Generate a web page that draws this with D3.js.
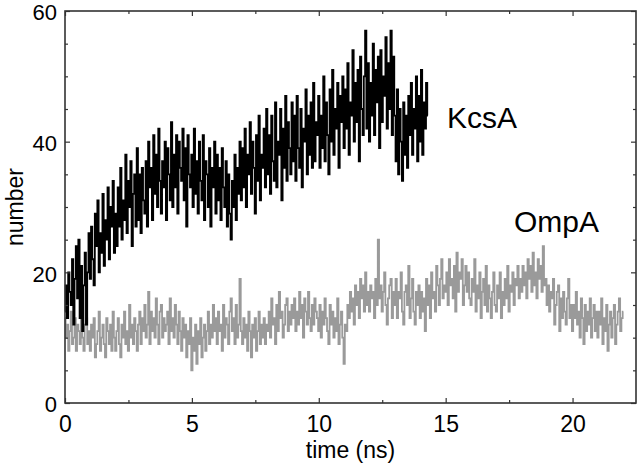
<!DOCTYPE html>
<html><head><meta charset="utf-8">
<script src="https://cdn.jsdelivr.net/npm/d3@7"></script>
<style>
html,body{margin:0;padding:0;background:#fff;}
svg{display:block;font-family:"Liberation Sans",Arial,sans-serif;}
</style></head>
<body>
<svg id="c" width="640" height="468"></svg>
<script>
// time step between samples (ns)
const timeStep = 0.05;
// KcsA counts, t = 0 .. 14.3 ns
const kcsaValues = [
14,18,13,20,17,15,22,12,19,24,16,25,13,21,11,18,23,12,20,26,
19,27,22,18,29,24,31,20,26,23,32,21,28,25,33,22,30,27,34,23,
29,24,33,27,36,25,31,28,38,26,34,30,37,24,32,35,27,39,28,35,
26,36,31,29,37,27,40,33,36,28,41,32,38,30,42,34,29,37,33,40,
28,39,35,31,43,30,38,33,41,29,40,36,34,42,31,39,27,41,35,33,
38,30,42,32,37,29,40,34,31,41,28,37,35,30,39,27,36,33,40,29,
38,31,36,28,39,33,30,37,27,35,29,25,34,30,38,28,36,32,40,31,
39,33,42,30,38,35,43,32,40,36,29,41,34,44,31,38,36,42,33,45,
35,41,32,44,37,34,46,33,40,38,45,31,42,36,47,34,43,39,35,46,
37,44,34,47,39,36,45,33,42,40,48,35,44,38,46,36,49,37,43,41,
47,36,44,39,50,37,46,41,35,48,40,51,38,45,42,49,36,47,43,50,
39,48,42,52,38,46,44,54,40,49,43,51,37,53,45,41,50,57,42,52,
40,49,44,55,41,51,46,53,39,54,43,50,47,56,42,52,45,57,41,53,
44,37,48,35,45,40,34,46,38,44,36,47,41,49,38,45,42,50,37,47,
40,51,38,46,42,49,44
];
// OmpA counts, t = 0 .. 22 ns
const ompaValues = [
13,10,12,8,11,14,9,10,13,8,12,11,9,14,10,8,12,13,9,11,
8,12,10,13,7,9,11,14,8,10,12,9,7,13,11,9,12,8,14,10,
8,11,13,9,7,12,10,14,9,11,8,15,10,12,9,13,11,8,12,14,
9,13,11,15,10,12,17,9,14,11,13,10,16,12,9,14,15,10,13,11,
12,14,9,16,11,13,10,15,12,9,14,11,8,13,10,12,7,11,9,13,
5,10,8,12,6,11,9,13,7,10,12,8,11,14,9,12,10,15,11,13,
9,14,11,12,8,15,10,13,12,9,14,16,11,13,9,15,10,12,19,11,
9,13,10,12,8,14,11,7,12,10,13,8,11,14,9,12,10,13,9,12,
11,14,10,16,12,13,9,15,11,17,13,14,10,12,15,16,11,14,12,15,
13,16,11,14,12,17,13,15,10,16,14,12,17,13,11,15,12,16,14,13,
11,15,10,14,12,16,13,11,9,15,12,14,10,13,11,16,9,12,14,10,
6,12,11,15,13,17,14,16,12,18,15,17,13,19,16,18,14,20,15,17,
14,18,16,17,13,19,15,25,16,18,14,17,20,15,12,16,18,19,13,17,
15,19,13,17,16,20,14,12,17,18,15,21,13,16,19,14,12,17,15,18,
13,17,14,16,11,19,15,18,13,20,16,17,14,21,18,15,19,22,16,18,
17,20,15,22,18,19,16,21,14,23,17,20,19,22,15,18,21,17,20,16,
15,19,17,22,14,18,16,20,13,17,19,15,21,14,18,16,13,17,20,15,
14,18,16,20,13,17,15,19,16,21,14,18,17,20,15,19,18,21,16,19,
17,21,18,20,16,22,19,21,17,23,18,20,16,22,19,21,17,24,18,19,
15,18,14,17,16,19,12,15,17,18,11,16,13,17,14,12,16,19,13,15,
11,15,13,17,12,14,10,16,13,9,15,11,14,12,16,10,13,15,11,14,
10,14,12,16,9,13,11,15,8,12,14,10,13,15,9,12,14,16,11,13,
14
];
const xMajorTicks = [0,5,10,15,20];
const xMinorTicks = [2.5,7.5,12.5,17.5];
const yMajorTicks = [0,20,40,60];
const yMinorTicks = [5,10,15,25,30,35,45,50,55];
const xDomain = [0, 22.5];
const yDomain = [0, 60];
const seriesNames = ["KcsA","OmpA"];

const svg = d3.select("#c");
const W = 640, H = 468;
const m = {left:65, right:4, top:11, bottom:65};
const iw = W - m.left - m.right, ih = H - m.top - m.bottom;
const g = svg.append("g").attr("transform", `translate(${m.left},${m.top})`);
const x = d3.scaleLinear().domain(xDomain).range([0, iw]);
const y = d3.scaleLinear().domain(yDomain).range([ih, 0]);

const toPts = vals => vals.map((v,i)=>({t: +(i*timeStep).toFixed(3), v}));
const line = d3.line().x(d=>x(d.t)).y(d=>y(d.v)).curve(d3.curveStep);

g.append("path").datum(toPts(ompaValues)).attr("d", line)
  .attr("fill","none").attr("stroke","#9a9a9a").attr("stroke-width",1.8);
g.append("path").datum(toPts(kcsaValues)).attr("d", line)
  .attr("fill","none").attr("stroke","#000").attr("stroke-width",1.8);

const axColor = "#333";
const fontSize = "23px";
function styleAxis(sel){
  sel.select(".domain").remove();
  sel.selectAll("line").attr("stroke", axColor).attr("stroke-width",1.2);
  sel.selectAll("text").attr("fill","#000").style("font-size",fontSize)
     .style("font-family",'"Liberation Sans", Arial, sans-serif');
}
// bottom
g.append("g").attr("transform",`translate(0,${ih})`)
  .call(d3.axisBottom(x).tickValues(xMajorTicks).tickSizeInner(-5).tickSizeOuter(0).tickPadding(13).tickFormat(d3.format("d")))
  .call(styleAxis);
g.append("g").attr("transform",`translate(0,${ih})`)
  .call(d3.axisBottom(x).tickValues(xMinorTicks).tickSizeInner(-3).tickSizeOuter(0).tickFormat(""))
  .call(styleAxis);
// top
g.append("g")
  .call(d3.axisTop(x).tickValues(xMajorTicks).tickSizeInner(-5).tickSizeOuter(0).tickFormat(""))
  .call(styleAxis);
g.append("g")
  .call(d3.axisTop(x).tickValues(xMinorTicks).tickSizeInner(-3).tickSizeOuter(0).tickFormat(""))
  .call(styleAxis);
// left
g.append("g")
  .call(d3.axisLeft(y).tickValues(yMajorTicks).tickSizeInner(-5).tickSizeOuter(0).tickPadding(8).tickFormat(d3.format("d")))
  .call(styleAxis)
  .call(s => s.selectAll("text").style("font-size","22px").attr("dy","0.4em"));
g.append("g")
  .call(d3.axisLeft(y).tickValues(yMinorTicks).tickSizeInner(-3).tickSizeOuter(0).tickFormat(""))
  .call(styleAxis);
// right
g.append("g").attr("transform",`translate(${iw},0)`)
  .call(d3.axisRight(y).tickValues(yMajorTicks).tickSizeInner(-5).tickSizeOuter(0).tickFormat(""))
  .call(styleAxis);
g.append("g").attr("transform",`translate(${iw},0)`)
  .call(d3.axisRight(y).tickValues(yMinorTicks).tickSizeInner(-3).tickSizeOuter(0).tickFormat(""))
  .call(styleAxis);

// frame
g.append("rect").attr("x",0).attr("y",0).attr("width",iw).attr("height",ih)
  .attr("fill","none").attr("stroke",axColor).attr("stroke-width",1.6);

// axis titles
svg.append("text").attr("x", m.left + iw/2).attr("y", 458)
  .attr("text-anchor","middle").style("font-size",fontSize).text("time (ns)");
svg.append("text").attr("transform",`translate(23,${m.top + ih/2}) rotate(-90)`)
  .attr("text-anchor","middle").style("font-size",fontSize).text("number");

// series labels
svg.append("text").attr("x",447).attr("y",128).style("font-size","30px").text(seriesNames[0]);
svg.append("text").attr("x",514).attr("y",232).style("font-size","30px").text(seriesNames[1]);
</script>
</body></html>
